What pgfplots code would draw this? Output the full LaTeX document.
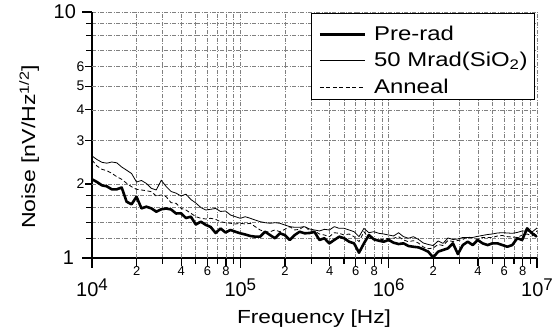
\documentclass[border=0pt]{standalone}
\usepackage{fontspec}
\setmainfont{Liberation Sans}
\usepackage{pgfplots}
\usepackage{pgfplotstable}
\pgfplotsset{compat=1.18}
\pgfplotstableread{
f pre mrad ann
1e4 2.089 2.598 2.502
1.0798e4 2.037 2.514 2.366
1.1659e4 1.975 2.449 2.294
1.2589e4 1.956 2.429 2.264
1.3594e4 1.902 2.456 2.210
1.4678e4 1.902 2.438 2.141
1.5849e4 1.935 2.344 2.089
1.7113e4 1.694 2.275 2.013
1.8478e4 1.653 2.206 1.949
1.9953e4 1.775 2.037 1.902
2.1544e4 1.592 2.066 1.890
2.3263e4 1.616 2.009 1.878
2.5119e4 1.592 1.920 1.860
2.7123e4 1.543 1.890 1.787
2.9286e4 1.578 2.071 1.804
3.1623e4 1.590 1.953 1.775
3.4145e4 1.575 1.864 1.678
3.6869e4 1.517 1.835 1.668
3.9811e4 1.520 1.787 1.592
4.2987e4 1.454 1.817 1.567
4.6416e4 1.472 1.729 1.520
5.0119e4 1.368 1.673 1.472
5.4117e4 1.405 1.605 1.450
5.8434e4 1.364 1.567 1.441
6.3096e4 1.337 1.578 1.450
6.8129e4 1.264 1.590 1.436
7.3564e4 1.318 1.546 1.405
7.9433e4 1.270 1.553 1.392
8.5770e4 1.300 1.496 1.384
9.2612e4 1.279 1.472 1.375
1e5 1.260 1.450 1.384
1.0798e5 1.246 1.472 1.375
1.1659e5 1.229 1.450 1.384
1.2589e5 1.221 1.427 1.341
1.3594e5 1.221 1.405 1.300
1.4678e5 1.279 1.392 1.279
1.5849e5 1.240 1.384 1.279
1.7113e5 1.203 1.392 1.300
1.8478e5 1.260 1.384 1.279
1.9953e5 1.240 1.362 1.308
2.1544e5 1.184 1.341 1.341
2.3263e5 1.240 1.333 1.300
2.5119e5 1.279 1.333 1.308
2.7123e5 1.260 1.341 1.349
2.9286e5 1.264 1.312 1.288
3.1623e5 1.276 1.300 1.288
3.4145e5 1.184 1.288 1.252
3.6869e5 1.203 1.308 1.240
3.9811e5 1.147 1.300 1.221
4.2987e5 1.184 1.341 1.267
4.6416e5 1.221 1.320 1.260
5.0119e5 1.203 1.320 1.240
5.4117e5 1.165 1.300 1.252
5.8434e5 1.147 1.279 1.221
6.3096e5 1.051 1.221 1.165
6.8129e5 1.147 1.320 1.279
7.3564e5 1.240 1.267 1.203
7.9433e5 1.191 1.279 1.191
8.5770e5 1.176 1.260 1.184
9.2612e5 1.165 1.252 1.191
1e6 1.184 1.240 1.203
1.0798e6 1.154 1.229 1.203
1.1659e6 1.140 1.267 1.221
1.2589e6 1.147 1.221 1.184
1.3594e6 1.119 1.203 1.165
1.4678e6 1.111 1.221 1.176
1.5849e6 1.105 1.191 1.151
1.7113e6 1.085 1.151 1.109
1.8478e6 1.061 1.135 1.091
1.9953e6 1.005 1.124 1.098
2.1544e6 1.061 1.173 1.135
2.3263e6 1.078 1.147 1.124
2.5119e6 1.095 1.206 1.178
2.7123e6 1.147 1.189 1.167
2.9286e6 1.038 1.195 1.178
3.1623e6 1.129 1.212 1.189
3.4145e6 1.165 1.212 1.217
3.6869e6 1.129 1.212 1.206
3.9811e6 1.184 1.225 1.189
4.2987e6 1.147 1.235 1.212
4.6416e6 1.129 1.246 1.212
5.0119e6 1.147 1.252 1.212
5.4117e6 1.147 1.264 1.229
5.8434e6 1.129 1.267 1.235
6.3096e6 1.111 1.264 1.221
6.8129e6 1.129 1.260 1.217
7.3564e6 1.203 1.270 1.212
7.9433e6 1.184 1.288 1.240
8.5770e6 1.320 1.288 1.252
9.2612e6 1.260 1.276 1.229
1e7 1.221 1.324 1.288
}\noisedata

\newcommand{\xmaj}[1]{\raisebox{-29bp}{10\raisebox{6bp}{\fontsize{17}{17}\selectfont #1}}}
\newcommand{\xmin}[1]{\raisebox{-10bp}{#1}}
\newcommand{\lent}[1]{\rule[-2bp]{0pt}{24bp}\smash{\scalebox{1.2}[1]{#1}}}

\begin{document}
\begin{tikzpicture}
\path[use as bounding box] (-92bp,-75bp) rectangle (460bp,258bp);
\begin{axis}[
  at={(0,0)}, anchor=south west,
  scale only axis, width=445bp, height=246bp,
  xmode=log, ymode=log,
  xmin=1e4, xmax=1e7, ymin=1, ymax=10,
  axis x line*=bottom, axis y line*=left,
  axis line style={line width=1.6bp, -},
  tick align=outside,
  major tick length=10bp, minor tick length=6bp,
  tick style={line width=1.1bp, black},
  xtick={1e4,1e5,1e6,1e7},
  xticklabels={\xmaj{4},\xmaj{5},\xmaj{6},\xmaj{7}},
  minor xtick={3e4,5e4,7e4,9e4,3e5,5e5,7e5,9e5,3e6,5e6,7e6,9e6},
  extra x ticks={2e4,4e4,6e4,8e4,2e5,4e5,6e5,8e5,2e6,4e6,6e6,8e6},
  extra x tick labels={\xmin{2},\xmin{4},\xmin{6},\xmin{8},\xmin{2},\xmin{4},\xmin{6},\xmin{8},\xmin{2},\xmin{4},\xmin{6},\xmin{8}},
  ytick={1,10}, yticklabels={1\kern8bp,10\kern6bp},
  minor ytick={1.2,1.4,1.6,1.8,7,8,9},
  extra y ticks={2,3,4,5,6},
  extra y tick labels={2\kern0.5bp,3\kern0.5bp,4\kern0.5bp,5\kern0.5bp,6\kern0.5bp},
  xticklabel style={anchor=base, inner sep=0pt, font=\fontsize{20}{20}\selectfont},
  yticklabel style={anchor=east, inner sep=0pt, font=\fontsize{20}{20}\selectfont},
  extra x tick style={grid=major, major tick length=8bp,
     xticklabel style={font=\fontsize{13}{13}\selectfont}},
  extra y tick style={grid=major, major tick length=7bp,
     yticklabel style={font=\fontsize{14}{14}\selectfont}},
  grid=both,
  major grid style={black!50, line width=0.7bp, dash pattern=on 4bp off 1.5bp on 1bp off 1.5bp},
  minor grid style={black!50, line width=0.7bp, dash pattern=on 4bp off 1.5bp on 1bp off 1.5bp},
  xlabel={\scalebox{1.2}[1]{Frequency [Hz]}},
  xlabel style={at={(axis description cs:0.499,-0.265)}, anchor=base, font=\fontsize{19}{19}\selectfont},
  ylabel={\scalebox{1.22}[1]{Noise [nV/Hz\textsuperscript{1/2}]}},
  ylabel style={at={(axis description cs:-0.128,0.452)}, anchor=base, font=\fontsize{19}{19}\selectfont},
  legend image code/.code={\draw[#1] (0bp,6bp) -- (45bp,6bp);},
  legend style={at={(axis description cs:0.9955,0.996)}, anchor=north east,
     draw=black, line width=0.8bp, fill=white, inner xsep=7bp, inner ysep=5bp,
     row sep=3bp, column sep=8bp, font=\fontsize{20}{20}\selectfont,
     nodes={inner sep=0pt},
     cells={anchor=base west}},
]
\addplot[black, line width=2.6bp, line join=round] table[x=f,y=pre]{\noisedata};
\addlegendentry{\lent{Pre-rad}}
\addplot[black, line width=0.8bp, line join=round] table[x=f,y=mrad]{\noisedata};
\addlegendentry{\lent{50 Mrad(SiO\textsubscript{2})}}
\addplot[black, line width=0.8bp, dash pattern=on 4bp off 2.5bp] table[x=f,y=ann]{\noisedata};
\addlegendentry{\lent{Anneal}}
\end{axis}
\end{tikzpicture}
\end{document}
